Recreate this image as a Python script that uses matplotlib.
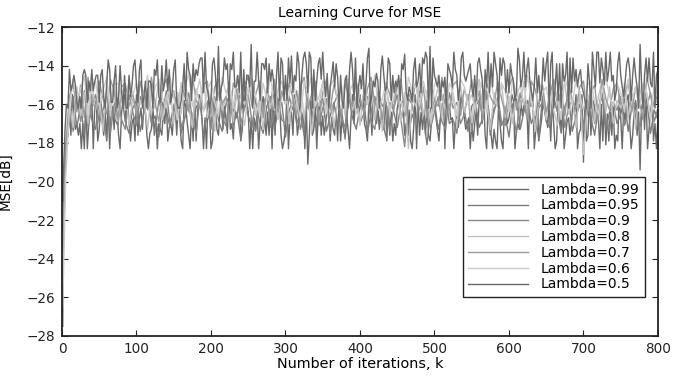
import numpy as np
import matplotlib.pyplot as plt

plt.rcParams['font.family'] = ['DejaVu Sans']

# Lambda=0.99 and Lambda=0.5 stored every 2 iterations, the others every 5
lam099 = [-27.5, -22.0, -19.4, -18.0, -17.6, -16.1, -17.6, -15.5, -16.4, -17.3, -17.0, -17.6, -17.0, -18.3, -17.0, -18.3, -15.8, -18.3, -17.0, -16.4,
          -15.5, -18.3, -16.1, -15.8, -17.9, -17.3, -15.8, -16.9, -17.6, -16.4, -17.9, -15.8, -18.3, -16.4, -16.1, -17.3, -15.8, -16.6, -17.6, -18.3,
          -16.4, -15.8, -15.5, -17.0, -15.8, -16.9, -17.9, -17.0, -16.7, -17.9, -15.5, -17.6, -16.7, -16.2, -17.3, -16.1, -16.4, -17.6, -18.3, -17.5,
          -17.3, -16.1, -17.6, -16.7, -18.3, -17.0, -17.3, -17.6, -16.4, -17.0, -15.8, -17.9, -17.2, -17.0, -17.6, -16.5, -16.1, -17.6, -16.1, -16.7,
          -17.9, -18.3, -15.8, -16.1, -16.9, -17.6, -18.3, -16.4, -17.9, -15.8, -17.9, -16.4, -15.5, -15.8, -16.8, -18.3, -16.7, -18.3, -15.8, -16.1,
          -18.3, -17.9, -16.4, -15.9, -17.3, -17.6, -16.4, -15.7, -17.3, -16.1, -16.7, -17.5, -15.5, -17.3, -17.0, -17.8, -16.3, -16.7, -16.4, -15.5,
          -17.9, -17.3, -15.5, -16.1, -15.8, -16.4, -18.3, -16.7, -18.3, -16.7, -17.3, -16.4, -18.3, -17.0, -16.1, -15.6, -16.7, -17.6, -16.4, -17.6,
          -15.8, -18.3, -15.5, -17.6, -15.5, -16.1, -15.8, -17.6, -18.3, -17.9, -17.3, -15.5, -18.3, -16.7, -16.4, -17.6, -15.5, -16.1, -17.6, -17.0,
          -15.5, -17.0, -16.4, -18.3, -16.1, -19.1, -17.6, -15.8, -17.6, -17.3, -16.1, -18.3, -16.4, -15.8, -17.6, -16.6, -17.6, -17.0, -16.1, -16.4,
          -17.9, -16.7, -17.3, -17.6, -16.2, -17.9, -15.8, -17.9, -16.7, -17.3, -17.6, -16.5, -17.3, -18.3, -16.7, -15.5, -17.0, -15.8, -16.4, -16.1,
          -15.5, -16.3, -15.6, -17.0, -17.3, -17.9, -15.8, -16.1, -17.6, -15.8, -16.7, -17.0, -16.1, -17.3, -16.4, -17.0, -17.3, -15.5, -17.9, -16.1,
          -17.6, -16.4, -17.9, -17.0, -17.6, -16.2, -15.8, -16.4, -16.7, -16.1, -17.6, -17.0, -17.6, -16.3, -17.9, -18.3, -17.3, -15.5, -18.3, -15.8,
          -17.6, -16.4, -17.3, -16.4, -17.6, -15.8, -17.6, -17.9, -16.9, -16.1, -15.8, -16.7, -17.3, -17.9, -16.7, -16.2, -15.5, -18.3, -15.5, -15.8,
          -16.1, -16.8, -16.7, -18.3, -17.0, -16.4, -17.2, -16.4, -15.5, -15.8, -16.7, -17.3, -17.0, -16.7, -18.3, -17.0, -17.9, -17.0, -16.4, -17.6,
          -15.8, -15.5, -17.0, -15.5, -17.6, -18.3, -16.1, -16.8, -17.6, -18.3, -17.3, -17.9, -18.3, -16.1, -17.0, -17.9, -18.3, -16.1, -16.4, -17.0,
          -16.7, -16.1, -15.5, -15.8, -18.3, -17.4, -17.0, -17.3, -15.8, -16.6, -16.1, -15.8, -16.1, -18.3, -15.5, -16.1, -15.8, -18.3, -17.3, -15.5,
          -17.9, -17.3, -16.7, -15.5, -16.4, -16.7, -17.2, -15.8, -17.9, -15.8, -17.0, -18.3, -17.9, -15.8, -16.4, -17.3, -16.1, -18.3, -17.6, -16.9,
          -16.7, -17.6, -16.9, -15.8, -16.4, -15.5, -18.3, -17.5, -17.3, -15.5, -19.0, -15.8, -17.9, -17.6, -15.5, -17.6, -16.1, -15.8, -16.6, -16.4,
          -16.7, -18.3, -16.0, -17.9, -15.7, -18.1, -16.5, -17.9, -16.4, -17.6, -16.1, -18.3, -17.6, -17.9, -15.5, -16.7, -18.3, -16.2, -17.0, -15.8,
          -15.5, -17.0, -18.3, -17.6, -16.4, -15.8, -17.6, -16.4, -19.4, -16.2, -15.8, -17.3, -15.5, -18.3, -17.3, -16.4, -15.8, -17.9, -17.0, -18.3,
          -16.6]

lam095 = [-22.5, -18.4, -16.9, -15.6, -17.2, -16.0, -17.6, -15.4, -16.8, -17.3,
          -15.7, -16.5, -17.8, -15.9, -16.7, -17.1, -15.5, -16.9, -17.5, -16.2,
          -15.8, -17.4, -16.4, -15.6, -17.0, -16.6, -17.7, -15.9, -16.3, -17.2,
          -16.1, -15.4, -17.5, -16.7, -15.9, -17.3, -16.2, -15.7, -17.6, -16.5,
          -17.0, -15.6, -16.8, -17.4, -16.0, -15.5, -17.1, -16.4, -17.8, -15.8,
          -16.6, -17.2, -15.7, -16.9, -17.5, -16.1, -15.6, -17.3, -16.4, -15.9,
          -17.7, -16.3, -15.8, -17.0, -16.5, -17.6, -15.5, -16.8, -17.2, -16.0,
          -15.7, -17.4, -16.6, -15.9, -17.1, -16.2, -17.8, -15.6, -16.7, -17.3,
          -16.1, -15.8, -17.5, -16.4, -15.6, -17.0, -16.9, -17.7, -15.9, -16.3,
          -17.2, -16.0, -15.7, -17.6, -16.5, -17.1, -15.8, -16.6, -18.1, -16.2,
          -15.9, -17.3, -16.4, -15.6, -17.0, -16.8, -17.5, -15.7, -16.3, -17.4,
          -16.1, -15.8, -17.2, -16.7, -15.5, -17.6, -16.2, -15.9, -17.1, -16.6,
          -17.7, -16.0, -15.7, -17.3, -16.4, -15.8, -17.0, -16.5, -17.8, -15.6,
          -16.9, -17.2, -15.9, -16.3, -17.5, -16.1, -15.7, -17.4, -16.6, -16.0,
          -17.1, -15.8, -16.7, -17.6, -16.2, -15.6, -17.3, -16.4, -15.9, -17.0,
          -16.5, -15.7, -17.4, -16.1, -15.9, -17.2, -16.6, -15.8, -17.5, -16.3,
          -16.8]

lam090 = [-23.5, -18.8, -16.5, -17.4, -15.6, -16.9, -15.3, -17.2, -16.1, -15.5,
          -17.0, -16.3, -15.4, -17.5, -16.0, -15.7, -16.8, -17.3, -15.5, -16.4,
          -17.1, -15.6, -16.2, -15.2, -16.9, -17.4, -15.8, -16.5, -15.3, -17.0,
          -16.1, -15.5, -17.2, -16.6, -15.4, -16.8, -17.5, -15.7, -16.3, -15.9,
          -17.3, -16.0, -15.3, -16.7, -17.1, -15.6, -16.4, -15.2, -17.0, -16.2,
          -15.5, -16.9, -17.4, -15.8, -16.1, -15.4, -17.2, -16.5, -15.7, -16.8,
          -17.0, -15.6, -16.3, -15.3, -17.3, -16.6, -15.9, -16.9, -15.4, -17.1,
          -16.2, -15.7, -17.5, -16.0, -15.5, -16.7, -17.2, -15.3, -16.4, -15.8,
          -17.0, -16.5, -15.6, -16.9, -17.3, -15.4, -16.1, -15.9, -17.4, -16.3,
          -15.5, -16.8, -18.2, -15.7, -16.0, -17.1, -15.3, -16.6, -15.8, -17.2,
          -16.4, -15.6, -16.9, -17.3, -15.4, -16.2, -15.9, -17.0, -16.5, -15.5,
          -17.4, -16.1, -15.8, -16.7, -15.3, -17.2, -16.4, -15.6, -16.9, -17.1,
          -15.7, -16.3, -17.5, -15.5, -16.0, -16.8, -15.4, -17.3, -16.2, -15.9,
          -16.6, -17.0, -15.6, -16.4, -15.3, -17.2, -16.1, -15.8, -16.9, -15.5,
          -17.3, -16.5, -15.7, -17.0, -16.2, -15.4, -16.8, -17.4, -15.9, -16.3,
          -15.6, -17.1, -16.4, -15.5, -16.7, -17.3, -15.8, -16.1, -15.4, -16.9,
          -16.2]

lam080 = [-24.5, -19.0, -16.0, -17.2, -15.1, -16.6, -15.4, -17.0, -14.9, -16.3,
          -15.6, -17.4, -15.2, -16.1, -14.8, -16.9, -15.5, -15.0, -17.1, -15.7,
          -16.4, -14.9, -15.8, -17.3, -15.3, -16.2, -14.7, -16.8, -15.6, -15.1,
          -17.0, -15.4, -16.5, -14.8, -15.9, -17.2, -15.2, -16.0, -14.6, -16.7,
          -15.5, -17.4, -15.0, -16.3, -15.7, -14.9, -16.9, -15.3, -16.1, -17.1,
          -15.4, -14.7, -16.6, -15.8, -17.3, -15.1, -16.2, -14.8, -16.8, -15.6,
          -15.0, -17.0, -15.5, -16.4, -14.9, -16.7, -15.2, -17.5, -15.7, -16.1,
          -14.8, -16.5, -15.3, -17.2, -15.9, -15.0, -16.6, -14.7, -16.3, -15.6,
          -17.1, -15.2, -16.0, -14.9, -16.8, -15.5, -17.4, -15.1, -16.2, -15.8,
          -14.8, -16.9, -15.4, -18.3, -15.7, -16.1, -14.9, -16.6, -15.3, -17.0,
          -15.9, -15.1, -16.7, -14.8, -16.3, -15.6, -17.2, -15.0, -16.4, -15.5,
          -16.9, -15.2, -14.7, -16.5, -15.8, -17.3, -15.4, -16.1, -14.9, -16.7,
          -15.6, -17.0, -15.1, -16.2, -14.8, -16.6, -15.5, -17.4, -15.9, -15.2,
          -16.8, -15.0, -16.3, -17.1, -15.4, -14.9, -16.5, -15.7, -17.2, -15.3,
          -18.6, -16.0, -15.2, -16.9, -15.6, -14.8, -16.4, -15.1, -17.0, -15.8,
          -16.2, -14.9, -16.7, -15.5, -17.3, -15.0, -16.1, -15.4, -16.8, -15.7,
          -16.0]

lam070 = [-25.5, -18.2, -15.6, -14.9, -16.4, -15.0, -16.7, -14.6, -15.9, -16.2,
          -14.8, -15.7, -16.5, -14.7, -15.3, -16.8, -15.1, -14.9, -16.1, -15.4,
          -16.6, -14.8, -15.5, -16.3, -14.6, -15.9, -16.9, -15.2, -14.7, -16.0,
          -15.3, -16.7, -14.9, -15.6, -16.4, -14.5, -15.8, -16.2, -15.0, -14.8,
          -16.5, -15.1, -14.7, -16.0, -15.6, -16.8, -14.9, -15.4, -16.3, -15.0,
          -14.6, -16.1, -15.5, -14.8, -16.7, -15.2, -15.9, -14.7, -16.4, -15.3,
          -16.0, -14.9, -15.7, -16.6, -15.1, -14.6, -16.2, -15.5, -14.8, -16.9,
          -15.4, -14.7, -16.3, -15.0, -15.8, -16.5, -14.9, -15.6, -16.1, -14.8,
          -15.7, -16.4, -15.2, -14.6, -16.0, -15.3, -16.8, -14.9, -15.5, -16.2,
          -15.0, -14.7, -16.6, -15.4, -15.9, -14.8, -16.3, -15.1, -16.7, -14.9,
          -15.8, -16.1, -14.6, -15.5, -16.4, -15.0, -14.8, -16.6, -15.2, -15.9,
          -14.7, -16.2, -15.3, -16.8, -14.9, -15.6, -16.0, -14.8, -15.7, -16.5,
          -15.1, -14.6, -16.3, -15.4, -15.9, -16.7, -14.8, -15.2, -16.1, -15.0,
          -16.4, -15.5, -14.7, -16.0, -15.3, -16.6, -14.9, -15.8, -16.2, -15.1,
          -14.8, -16.5, -15.4, -15.0, -16.8, -14.7, -15.7, -16.3, -15.2, -14.9,
          -16.0, -15.6, -14.8, -16.4, -15.1, -15.9, -16.7, -14.6, -15.5, -16.1,
          -15.4]

lam060 = [-26.5, -19.8, -16.2, -14.7, -15.9, -15.2, -14.5, -16.4, -15.0, -14.8,
          -16.1, -15.3, -14.6, -16.6, -15.0, -14.9, -15.8, -16.3, -14.7, -15.5,
          -14.9, -16.0, -15.4, -14.5, -16.5, -15.1, -14.8, -15.7, -16.2, -14.6,
          -15.6, -16.8, -14.9, -15.2, -14.4, -16.1, -15.5, -14.7, -16.4, -15.3,
          -14.8, -15.9, -16.6, -14.6, -15.4, -15.0, -16.2, -14.5, -15.7, -16.0,
          -15.1, -14.7, -15.6, -16.5, -14.9, -15.8, -14.4, -16.3, -15.2, -14.8,
          -16.0, -15.5, -14.6, -15.9, -16.7, -14.8, -15.3, -14.5, -16.1, -15.6,
          -14.9, -16.4, -15.1, -14.7, -15.8, -16.2, -14.6, -15.4, -15.0, -16.5,
          -15.2, -14.8, -16.0, -15.5, -14.5, -16.3, -15.7, -14.9, -16.6, -15.1,
          -14.7, -15.9, -16.4, -14.6, -15.3, -15.0, -16.1, -14.8, -15.6, -16.8,
          -15.0, -14.5, -15.8, -16.2, -14.9, -15.4, -16.6, -14.7, -15.1, -16.0,
          -15.5, -16.3, -14.8, -15.2, -16.5, -14.6, -15.7, -16.1, -14.9, -15.3,
          -16.4, -14.7, -15.6, -15.0, -16.0, -14.5, -15.9, -16.6, -14.8, -15.4,
          -15.1, -16.2, -14.9, -15.7, -16.8, -14.6, -15.3, -16.0, -14.7, -15.5,
          -16.3, -15.0, -14.8, -15.9, -16.5, -15.2, -14.6, -15.6, -16.1, -14.9,
          -15.4, -16.4, -14.7, -15.8, -15.1, -16.2, -14.9, -15.5, -16.7, -15.0,
          -15.6]

lam050 = [-21.0, -19.5, -17.4, -16.0, -16.2, -14.2, -15.3, -15.0, -14.5, -15.0, -15.9, -16.2, -15.6, -16.2, -14.5, -14.2, -14.5, -15.9, -14.8, -15.3,
          -14.2, -15.3, -14.8, -14.5, -14.5, -15.9, -14.5, -14.2, -15.6, -16.2, -15.0, -13.7, -14.2, -15.9, -15.9, -14.8, -14.0, -16.2, -15.6, -14.0,
          -15.3, -16.2, -14.5, -16.2, -16.2, -14.5, -15.6, -15.0, -14.0, -13.7, -15.0, -15.9, -14.2, -13.7, -16.2, -15.6, -14.8, -16.2, -14.8, -14.8,
          -15.0, -16.2, -14.2, -14.5, -13.7, -15.6, -15.9, -14.0, -15.3, -14.8, -13.7, -15.3, -14.2, -15.9, -15.3, -14.2, -13.7, -15.9, -16.2, -16.2,
          -15.8, -15.1, -13.9, -15.8, -13.3, -14.2, -14.5, -15.8, -13.9, -14.8, -14.2, -14.5, -13.9, -13.6, -13.6, -15.4, -13.3, -15.1, -15.4, -16.2,
          -15.8, -13.9, -13.6, -14.5, -15.8, -13.0, -15.8, -15.1, -14.8, -13.6, -14.2, -13.9, -15.8, -13.9, -14.2, -13.3, -15.1, -15.1, -14.5, -15.4,
          -13.3, -16.2, -14.2, -15.8, -14.5, -14.5, -15.1, -12.9, -16.2, -14.8, -14.8, -13.3, -14.8, -15.8, -13.9, -13.9, -14.2, -13.6, -15.4, -13.9,
          -14.8, -14.2, -14.8, -16.2, -14.5, -13.3, -15.8, -13.6, -13.9, -15.8, -14.5, -15.8, -13.6, -14.9, -13.5, -15.4, -14.5, -14.8, -13.3, -13.9,
          -15.8, -14.5, -13.6, -13.3, -13.9, -15.4, -13.3, -13.6, -16.2, -14.2, -15.8, -14.8, -13.9, -13.6, -14.7, -13.3, -14.8, -15.6, -14.4, -16.2,
          -15.1, -14.5, -13.8, -15.1, -13.9, -14.6, -16.2, -14.5, -15.8, -16.2, -14.8, -14.5, -16.2, -14.2, -13.3, -14.2, -15.8, -13.6, -16.2, -15.1,
          -14.5, -15.2, -13.9, -15.8, -15.0, -13.6, -13.1, -16.2, -15.4, -14.8, -15.1, -14.4, -14.8, -16.2, -14.2, -13.5, -14.5, -15.3, -15.1, -13.6,
          -13.9, -15.8, -14.5, -15.4, -14.8, -15.1, -14.5, -15.8, -13.9, -14.2, -13.4, -15.4, -15.8, -15.1, -15.4, -15.8, -14.2, -13.6, -15.1, -14.8,
          -13.9, -15.4, -13.6, -13.9, -13.3, -13.6, -16.2, -13.0, -16.2, -13.6, -14.5, -14.8, -15.1, -14.5, -15.8, -14.8, -15.1, -14.6, -16.2, -13.9,
          -14.2, -14.5, -15.1, -13.3, -14.2, -14.5, -15.8, -15.1, -13.6, -13.3, -14.5, -14.8, -14.5, -14.2, -13.9, -15.1, -15.6, -14.5, -15.8, -13.9,
          -13.6, -14.2, -14.7, -16.2, -14.2, -15.1, -13.3, -15.4, -13.9, -15.1, -13.3, -13.9, -14.5, -16.2, -13.6, -14.5, -13.6, -13.9, -15.4, -14.2,
          -15.4, -13.9, -14.5, -14.8, -15.8, -15.4, -13.1, -13.7, -15.1, -14.6, -13.3, -15.1, -14.2, -13.6, -14.8, -15.3, -15.8, -15.0, -13.6, -15.4,
          -14.5, -15.8, -15.2, -13.6, -14.8, -13.9, -13.3, -16.2, -13.9, -13.3, -16.2, -15.1, -13.9, -15.8, -13.9, -16.2, -13.9, -14.8, -14.5, -13.3,
          -16.2, -13.6, -15.4, -13.6, -14.8, -14.2, -15.1, -14.5, -14.2, -15.1, -15.4, -15.8, -16.2, -13.9, -14.8, -16.2, -13.3, -14.2, -15.1, -13.3,
          -13.3, -14.9, -13.6, -14.2, -15.0, -13.3, -14.8, -14.2, -13.3, -14.8, -14.5, -15.8, -15.3, -13.9, -13.3, -14.5, -15.1, -15.6, -14.8, -13.9,
          -13.6, -14.2, -15.8, -14.5, -13.6, -14.5, -15.1, -16.2, -12.9, -15.0, -16.2, -14.5, -13.6, -14.8, -13.6, -14.9, -15.1, -13.3, -16.2, -14.5,
          -14.2]

labels = ['Lambda=0.99', 'Lambda=0.95', 'Lambda=0.9', 'Lambda=0.8',
          'Lambda=0.7', 'Lambda=0.6', 'Lambda=0.5']
colors = ['#6a6a6a', '#7c7c7c', '#888888', '#c2c2c2', '#9a9a9a', '#cbcbcb', '#686868']
series = [lam099, lam095, lam090, lam080, lam070, lam060, lam050]
steps = [2, 5, 5, 5, 5, 5, 2]

fig = plt.figure(figsize=(6.91, 3.76), dpi=100)
ax = fig.add_axes([0.0897, 0.1064, 0.8625, 0.8216])

for y, st, c, lab in zip(series, steps, colors, labels):
    k = np.arange(len(y)) * st
    k[0] = 1
    ax.plot(k, y, color=c, lw=1.0, label=lab)

ax.set_xlim(0, 800)
ax.set_ylim(-28, -12)
ax.set_xticks(range(0, 801, 100))
ax.set_yticks(range(-28, -11, 2))
ax.tick_params(direction='in', top=True, right=True, length=4, width=0.8,
               labelsize=9.8, colors='#222222', pad=5)
ax.tick_params(axis='x', pad=4)
for s in ax.spines.values():
    s.set_linewidth(1.3)
    s.set_color('#222222')

ax.set_title('Learning Curve for MSE', fontsize=10, pad=7)
ax.set_xlabel('Number of iterations, k', fontsize=10.4, labelpad=1)
ax.set_ylabel('MSE[dB]', fontsize=9.8)
ax.yaxis.set_label_coords(-0.083, 0.5)

leg = ax.legend(loc='upper right', bbox_to_anchor=(0.978, 0.5146), fontsize=10,
                handlelength=4.3, handletextpad=0.9, labelspacing=0.13,
                borderpad=0.4, borderaxespad=0, fancybox=False, framealpha=1,
                edgecolor='#222222')
leg.get_frame().set_linewidth(1.0)

fig.savefig('out.png', dpi=100)
